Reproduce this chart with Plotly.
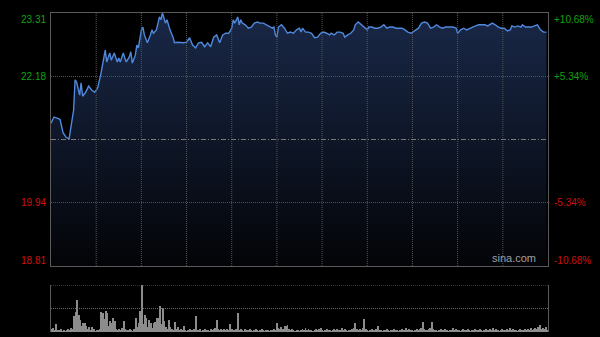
import plotly.graph_objects as go

prev_close = 21.06
price_min, price_max = 18.81, 23.31
left_ticks = [23.31, 22.18, 19.94, 18.81]
right_ticks = ["+10.68%", "+5.34%", "-5.34%", "-10.68%"]
time_grid = [30, 60, 90, 120, 150, 180, 210, 240, 270, 300]

minutes = [0, 2, 4, 6, 8, 10, 12, 13, 15, 16, 17, 19, 20, 21, 23, 25, 27, 29, 31, 33,
           34, 35, 36, 37, 39, 40, 41, 42, 44, 45, 46, 48, 49, 50, 52, 53, 54, 56, 57, 58,
           60, 61, 62, 64, 66, 67, 68, 70, 72, 73, 74, 76, 77, 79, 81, 82, 84, 86, 88, 90,
           92, 94, 96, 98, 100, 102, 104, 106, 108, 110, 112, 114, 116, 118, 120, 121, 122, 124, 125, 126,
           127, 129, 131, 133, 135, 137, 139, 141, 143, 145, 147, 148, 149, 150, 151, 153, 155, 157, 159, 161,
           163, 165, 166, 167, 169, 171, 173, 175, 177, 179, 181, 183, 185, 186, 188, 190, 192, 194, 195, 197,
           199, 201, 202, 204, 206, 208, 210, 211, 213, 215, 217, 219, 221, 223, 225, 227, 229, 231, 233, 235,
           237, 239, 240, 242, 244, 246, 248, 250, 252, 254, 256, 258, 260, 262, 264, 265, 267, 269, 270, 272,
           274, 276, 278, 280, 282, 284, 286, 288, 290, 291, 293, 295, 297, 299, 301, 303, 305, 306, 308, 310,
           312, 313, 315, 317, 319, 321, 323, 325, 327, 329]

prices = [21.35, 21.46, 21.44, 21.42, 21.18, 21.10, 21.07, 21.23, 21.58, 22.12, 22.08, 21.85, 22.07, 21.83, 21.90, 22.01, 21.94, 21.90, 21.98, 22.21,
          22.35, 22.51, 22.65, 22.44, 22.60, 22.47, 22.53, 22.60, 22.44, 22.51, 22.44, 22.60, 22.51, 22.44, 22.53, 22.62, 22.42, 22.56, 22.74, 22.69,
          23.01, 23.06, 22.92, 22.78, 22.92, 23.01, 22.95, 23.01, 23.24, 23.19, 23.31, 23.13, 23.19, 23.01, 22.88, 22.78, 22.79, 22.78, 22.78, 22.79,
          22.87, 22.74, 22.69, 22.78, 22.79, 22.71, 22.78, 22.71, 22.88, 22.92, 22.78, 22.92, 22.95, 22.95, 23.04, 23.19, 23.13, 23.24, 23.10, 23.19,
          23.13, 23.10, 23.04, 23.06, 23.13, 23.15, 23.13, 23.13, 23.10, 23.06, 23.04, 23.06, 22.92, 22.88, 23.06, 23.10, 23.04, 22.95, 22.97, 22.95,
          23.01, 23.04, 22.97, 23.04, 22.97, 22.97, 22.95, 22.87, 22.88, 22.95, 22.97, 22.95, 22.92, 22.95, 22.92, 22.97, 22.97, 22.95, 22.88, 22.92,
          22.95, 23.01, 23.10, 23.15, 23.10, 23.06, 23.01, 23.06, 23.06, 23.04, 23.04, 23.06, 23.10, 23.04, 23.06, 23.06, 23.04, 23.04, 23.04, 23.01,
          22.97, 22.95, 22.97, 23.01, 23.04, 23.13, 23.15, 23.13, 23.04, 23.06, 23.10, 23.06, 23.04, 23.06, 23.06, 23.06, 23.06, 23.04, 22.95, 23.01,
          23.04, 23.01, 23.04, 23.06, 23.08, 23.10, 23.10, 23.10, 23.08, 23.10, 23.13, 23.10, 23.06, 23.04, 23.04, 22.99, 23.01, 23.08, 23.06, 23.08,
          23.06, 23.10, 23.06, 23.06, 23.06, 23.08, 23.10, 23.01, 22.97, 22.97]

volumes = [3, 4, 2, 8, 2, 2, 3, 1, 2, 1, 2, 3, 2, 4, 3, 16, 20, 32, 17, 12, 6, 9, 9, 6, 3, 5, 2, 5, 3, 1,
           2, 2, 3, 20, 19, 13, 21, 19, 6, 11, 9, 14, 11, 3, 2, 3, 2, 4, 11, 3, 2, 2, 3, 2, 1, 3, 14, 5, 9, 21,
           47, 8, 17, 14, 5, 12, 9, 4, 9, 10, 14, 14, 26, 8, 24, 11, 5, 3, 12, 5, 3, 2, 10, 3, 5, 2, 3, 2, 6, 2,
           1, 2, 3, 2, 2, 3, 16, 2, 2, 3, 1, 2, 3, 2, 2, 1, 3, 2, 3, 4, 12, 3, 2, 3, 2, 3, 2, 3, 2, 8,
           3, 2, 2, 3, 19, 2, 3, 2, 1, 3, 2, 2, 3, 2, 1, 2, 3, 2, 1, 2, 3, 2, 1, 2, 2, 1, 2, 2, 3, 2,
           9, 4, 3, 5, 3, 6, 6, 7, 3, 2, 3, 2, 1, 2, 2, 1, 2, 3, 2, 4, 2, 3, 2, 2, 1, 2, 3, 2, 3, 4,
           2, 1, 2, 3, 2, 2, 1, 2, 3, 2, 3, 2, 2, 4, 2, 3, 2, 1, 2, 2, 3, 4, 9, 3, 2, 3, 2, 4, 13, 3,
           2, 1, 2, 3, 2, 2, 3, 6, 2, 2, 1, 2, 2, 3, 2, 1, 2, 2, 3, 2, 2, 1, 2, 3, 2, 2, 4, 2, 3, 2,
           2, 1, 2, 3, 2, 3, 4, 10, 3, 2, 2, 3, 4, 10, 3, 2, 2, 1, 2, 3, 2, 2, 3, 2, 1, 2, 2, 4, 2, 3,
           2, 2, 1, 2, 3, 2, 2, 3, 2, 1, 2, 2, 3, 2, 2, 3, 2, 1, 2, 3, 2, 2, 3, 2, 4, 2, 3, 2, 1, 2,
           3, 2, 2, 3, 2, 4, 2, 3, 2, 2, 1, 2, 3, 2, 2, 3, 2, 3, 2, 4, 2, 3, 4, 3, 5, 7, 3, 4, 3, 5,
           2]
vol_minutes = list(range(len(volumes)))
vol_max = max(volumes)

GREEN = "#12a012"
RED = "#cc1010"
GRID = "#555555"
FRAME = "#5a5a5a"
FONT = dict(size=10, family="Liberation Sans")

fig = go.Figure()
fig.add_trace(go.Scatter(
    x=minutes, y=prices, mode="lines",
    line=dict(color="#5088dc", width=1.4),
    fill="tozeroy",
    fillgradient=dict(type="vertical", start=price_min, stop=price_max,
                      colorscale=[[0, "rgb(3,4,7)"], [1, "rgb(25,40,72)"]]),
    xaxis="x", yaxis="y", hoverinfo="skip", showlegend=False))

fig.add_trace(go.Bar(
    x=vol_minutes, y=volumes, marker=dict(color="#8c8c8c", line=dict(width=0)),
    xaxis="x2", yaxis="y2", hoverinfo="skip", showlegend=False))

main_bottom = (332 - 266) / 319
vol_top = (332 - 285) / 319

shapes = []
# vertical time grid above the fill
for t in time_grid:
    shapes.append(dict(type="line", xref="x", yref="y", x0=t, x1=t, y0=price_min, y1=price_max,
                       line=dict(color=GRID, width=1, dash="1px,1px"), layer="above"))
# horizontal price grid
for p in left_ticks[1:3]:
    shapes.append(dict(type="line", xref="paper", yref="y", x0=0, x1=1, y0=p, y1=p,
                       line=dict(color=GRID, width=1, dash="1px,1px"), layer="above"))
# previous close
shapes.append(dict(type="line", xref="paper", yref="y", x0=0, x1=1, y0=prev_close, y1=prev_close,
                   line=dict(color="#7a7a7a", width=1, dash="5px,2px,1px,2px"), layer="above"))
# volume grid
for v in [vol_max / 2, vol_max]:
    shapes.append(dict(type="line", xref="paper", yref="y2", x0=0, x1=1, y0=v, y1=v,
                       line=dict(color="#6a6a6a", width=1, dash="1px,1px"), layer="above"))

annotations = []
for i, (p, t) in enumerate(zip(left_ticks, right_ticks)):
    col = GREEN if p > prev_close else RED
    ys = -6 if i == 0 else (6 if i == len(left_ticks) - 1 else 0)
    annotations.append(dict(x=0, xref="paper", y=p, yref="y", text=f"{p:.2f}",
                            xanchor="right", yanchor="middle", xshift=-3, yshift=ys,
                            showarrow=False, font=dict(color=col, **FONT)))
    annotations.append(dict(x=1, xref="paper", y=p, yref="y", text=t,
                            xanchor="left", yanchor="middle", xshift=4, yshift=ys,
                            showarrow=False, font=dict(color=col, **FONT)))
annotations.append(dict(x=1, xref="paper", y=price_min, yref="y", text="sina.com",
                        xanchor="right", yanchor="bottom", xshift=-10, yshift=0,
                        showarrow=False, font=dict(color="#a0a0a0", size=11, family="Liberation Sans")))

fig.update_layout(
    width=600, height=337,
    margin=dict(l=51, r=52, t=13, b=5),
    paper_bgcolor="black", plot_bgcolor="black",
    bargap=0.35,
    xaxis=dict(domain=[0, 1], range=[0, 330], anchor="y", showticklabels=False, ticks="",
               showgrid=False, showline=True, mirror=True, linecolor=FRAME, zeroline=False,
               layer="above traces"),
    yaxis=dict(domain=[main_bottom, 1], range=[price_min, price_max], anchor="x",
               showticklabels=False, ticks="", showgrid=False, showline=True, mirror=True,
               linecolor=FRAME, zeroline=False, layer="above traces"),
    xaxis2=dict(domain=[0, 1], range=[-0.5, 330.5], anchor="y2", showticklabels=False,
                ticks="", showgrid=False, showline=False, zeroline=False),
    yaxis2=dict(domain=[0, vol_top], range=[0, vol_max], anchor="x2",
                showticklabels=False, ticks="", showgrid=False, showline=True, mirror=True,
                linecolor=FRAME, zeroline=False),
    shapes=shapes,
    annotations=annotations,
)

fig.write_html("out.html")
